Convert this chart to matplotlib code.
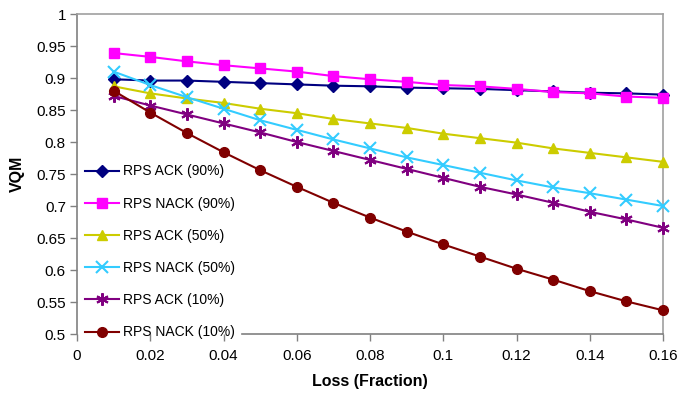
import matplotlib
matplotlib.use("Agg")
import matplotlib.pyplot as plt
from matplotlib.ticker import FixedLocator, FuncFormatter

plt.rcParams['font.family'] = ['Liberation Sans', 'DejaVu Sans']

loss = [0.01, 0.02, 0.03, 0.04, 0.05, 0.06, 0.07, 0.08, 0.09, 0.10, 0.11, 0.12, 0.13, 0.14, 0.15, 0.16]

ack90 = [0.898, 0.896, 0.896, 0.894, 0.892, 0.890, 0.888, 0.887, 0.885, 0.884, 0.883, 0.881, 0.879, 0.877, 0.876, 0.874]
nack90 = [0.939, 0.933, 0.926, 0.920, 0.915, 0.910, 0.903, 0.898, 0.894, 0.889, 0.887, 0.883, 0.878, 0.876, 0.871, 0.869]
ack50 = [0.887, 0.876, 0.868, 0.861, 0.852, 0.845, 0.836, 0.829, 0.822, 0.813, 0.806, 0.799, 0.790, 0.783, 0.776, 0.769]
nack50 = [0.910, 0.889, 0.870, 0.852, 0.834, 0.819, 0.804, 0.790, 0.776, 0.764, 0.752, 0.740, 0.729, 0.720, 0.710, 0.700]
ack10 = [0.872, 0.857, 0.843, 0.829, 0.815, 0.800, 0.786, 0.772, 0.758, 0.744, 0.730, 0.718, 0.705, 0.691, 0.679, 0.666]
nack10 = [0.880, 0.846, 0.814, 0.784, 0.756, 0.730, 0.705, 0.682, 0.660, 0.640, 0.621, 0.602, 0.585, 0.567, 0.551, 0.537]

labels = ["RPS ACK (90%)", "RPS NACK (90%)", "RPS ACK (50%)",
          "RPS NACK (50%)", "RPS ACK (10%)", "RPS NACK (10%)"]
series = [ack90, nack90, ack50, nack50, ack10, nack10]
colors = ["#000080", "#FF00FF", "#CCCC00", "#33CCFF", "#800080", "#800000"]
markers = ["D", "s", "^", "x", (6, 2, 0), "o"]
msizes = [6, 7, 7, 8, 9, 7]

xticks = [0, 0.02, 0.04, 0.06, 0.08, 0.10, 0.12, 0.14, 0.16]
yticks = [0.5, 0.55, 0.6, 0.65, 0.7, 0.75, 0.8, 0.85, 0.9, 0.95, 1.0]

fig = plt.figure(figsize=(6.77, 3.94), dpi=100)
ax = fig.add_axes([77/677, 1 - 334/394, (663-77)/677, (334-14)/394])

for ys, lab, c, m, ms in zip(series, labels, colors, markers, msizes):
    mew = 1.5 if m in ("x", (6, 2, 0)) else 1
    ax.plot(loss, ys, color=c, marker=m, markersize=ms, linewidth=1.5,
            markeredgewidth=mew, label=lab, clip_on=False, zorder=3)

ax.set_xlim(0, 0.16)
ax.set_ylim(0.5, 1.0)
ax.xaxis.set_major_locator(FixedLocator(xticks))
ax.yaxis.set_major_locator(FixedLocator(yticks))
fmt = FuncFormatter(lambda v, p: ("%.2f" % v).rstrip('0').rstrip('.') if v != 0 else "0")
ax.xaxis.set_major_formatter(fmt)
ax.yaxis.set_major_formatter(fmt)
ax.tick_params(axis='both', direction='out', length=5, width=1, color='#808080',
               labelsize=11)
ax.tick_params(axis='x', pad=6)
ax.tick_params(axis='y', pad=3)

for s in ['top', 'right']:
    ax.spines[s].set_color('#A0A0A0')
    ax.spines[s].set_linewidth(1.2)
for s in ['left', 'bottom']:
    ax.spines[s].set_color('#808080')
    ax.spines[s].set_linewidth(1.2)
ax.spines['bottom'].set_bounds(0.045, 0.16)

ax.set_xlabel("Loss (Fraction)", fontsize=11.5, fontweight='bold', labelpad=8)
ax.set_ylabel("VQM", fontsize=11.5, fontweight='bold', labelpad=8)

leg = ax.legend(loc='lower left', bbox_to_anchor=(0.0, -0.043), fontsize=10,
                frameon=False, labelspacing=1.31, handlelength=2.4, handletextpad=0.3,
                borderpad=0.3, borderaxespad=0.3)
leg.set_zorder(10)

fig.savefig("out.png", dpi=100)
